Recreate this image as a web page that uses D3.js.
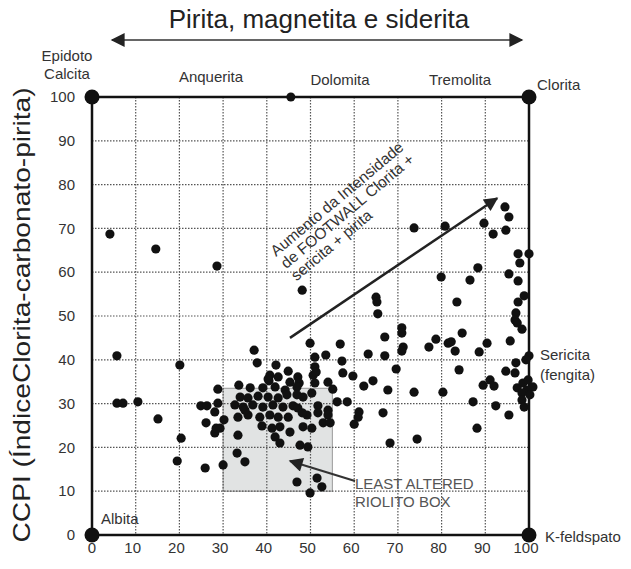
<!DOCTYPE html>
<html>
<head>
<meta charset="utf-8">
<script src="https://cdn.jsdelivr.net/npm/d3@7"></script>
<style>
body { margin: 0; background: #fff; }
svg text { font-family: "Liberation Sans", Arial, sans-serif; }
</style>
</head>
<body>
<svg id="chart" width="631" height="569"></svg>
<script>
// tick values
var xTicks = [0, 10, 20, 30, 40, 50, 60, 70, 80, 90, 100];
var yTicks = [0, 10, 20, 30, 40, 50, 60, 70, 80, 90, 100];

// end members (corners) + dolomite on top edge
var endMembers = [[0, 100], [100, 100], [0, 0], [100, 0]];
var dolomitePt = [[45.5, 100]];

// least altered riolito box (AI range x, CCPI range y)
var boxAI = [30, 55];
var boxCCPI = [10, 33.5];

// samples [AI, CCPI]
var leftPts = [
    [4.1, 68.7], [14.6, 65.3], [28.6, 61.4], [5.7, 40.9], [20.1, 38.8],
    [5.7, 30.1], [7.1, 30.1], [10.5, 30.4], [15.1, 26.5], [20.4, 22.1],
    [19.5, 16.9], [25.9, 15.3], [24.9, 29.5], [26.3, 29.5], [26.1, 25.6],
    [28.1, 28.1], [28.1, 23.3], [28.8, 33.3], [28.4, 24.4], [30.0, 16.0],
    [30.2, 26.3], [28.8, 30.1]
];
var clusterPts = [
    [37.1, 42.2], [37.8, 39.3], [33.6, 34.2], [36.2, 33.6], [42.1, 38.8],
    [44.9, 37.4], [40.7, 36.5], [42.6, 36.1], [40.5, 35.2], [47.1, 36.1],
    [45.3, 34.9], [47.4, 34.7], [50.6, 36.5], [51.0, 34.7], [51.0, 38.4],
    [51.3, 37.2], [51.0, 40.6], [53.5, 41.1], [49.9, 43.8], [56.8, 43.6],
    [57.2, 39.7], [57.4, 37.0], [59.7, 36.3], [54.0, 34.9], [55.1, 33.3],
    [39.1, 33.6], [41.9, 33.8], [44.2, 33.1], [46.9, 33.8], [33.9, 31.5],
    [35.7, 31.3], [38.0, 31.7], [40.3, 31.5], [42.6, 31.3], [44.6, 32.0],
    [46.9, 32.0], [48.3, 31.5], [50.3, 32.4], [56.1, 30.4], [58.4, 30.4],
    [32.7, 29.7], [34.6, 29.2], [36.8, 29.7], [39.1, 29.2], [41.4, 29.7],
    [43.7, 29.2], [46.0, 29.5], [47.1, 29.0], [51.7, 29.5], [54.0, 28.5],
    [33.4, 26.9], [35.7, 27.4], [38.4, 26.9], [40.7, 27.4], [42.6, 26.9],
    [44.9, 26.9], [49.2, 27.4], [51.7, 27.9], [54.0, 27.4], [38.9, 24.9],
    [41.2, 24.4], [43.0, 24.7], [48.3, 24.7], [50.3, 24.4], [52.9, 25.6],
    [54.5, 25.6], [29.3, 24.4], [33.4, 22.8], [41.9, 22.4], [43.0, 21.0],
    [45.3, 23.5], [47.6, 20.5], [49.4, 20.1], [33.2, 18.7], [35.0, 16.7],
    [46.9, 12.1], [51.5, 13.0], [52.6, 11.0], [49.9, 9.6], [40.3, 35.6],
    [35.0, 28.5], [48.1, 27.9]
];
var midPts = [
    [48.1, 55.9], [73.7, 70.1], [80.8, 70.5], [79.9, 58.9], [65.0, 54.3],
    [65.2, 53.2], [65.4, 50.5], [70.9, 47.3], [70.9, 46.1], [67.0, 45.2],
    [71.2, 42.9], [70.9, 42.0], [77.1, 42.9], [78.7, 44.7], [81.5, 43.8],
    [63.2, 41.3], [67.0, 40.9], [69.6, 37.9], [64.3, 35.2], [62.2, 34.0],
    [67.7, 33.1], [73.7, 32.6], [80.3, 32.6], [66.6, 27.9], [61.1, 28.1],
    [60.9, 26.9], [60.0, 25.3], [68.2, 21.0], [74.4, 21.9]
];
var rightPts = [
    [94.5, 74.9], [95.4, 72.6], [94.7, 69.6], [89.7, 71.2], [91.8, 68.7],
    [97.5, 64.2], [97.9, 62.1], [100.0, 64.2], [88.3, 61.0], [86.5, 58.2],
    [95.4, 59.6], [97.5, 58.0], [83.5, 53.2], [98.9, 54.6], [97.5, 53.2],
    [97.0, 50.7], [96.8, 49.1], [97.3, 48.4], [98.4, 47.0], [84.7, 46.1],
    [82.2, 44.1], [83.1, 42.0], [90.4, 43.8], [88.6, 41.8], [95.7, 44.3],
    [100.0, 40.9], [99.3, 40.0], [97.0, 39.3], [84.0, 37.7], [94.7, 37.4],
    [96.8, 37.0], [89.5, 34.2], [91.1, 35.4], [92.0, 34.0], [97.3, 33.6],
    [98.6, 34.7], [99.8, 35.4], [100.9, 33.8], [99.5, 33.1], [98.4, 32.4],
    [100.2, 32.0], [98.4, 30.8], [98.9, 29.2], [87.2, 30.4], [92.4, 29.5],
    [95.4, 27.4], [88.1, 24.4]
];

var samples = leftPts.concat(clusterPts, midPts, rightPts);

var svg = d3.select("#chart");

var x = d3.scaleLinear().domain([0, 100]).range([92, 529]);
var y = d3.scaleLinear().domain([0, 100]).range([535, 97]);

// shaded box
svg.append("rect")
    .attr("x", x(boxAI[0]))
    .attr("y", y(boxCCPI[1]))
    .attr("width", x(boxAI[1]) - x(boxAI[0]))
    .attr("height", y(boxCCPI[0]) - y(boxCCPI[1]))
    .attr("fill", "#e1e3e3")
    .attr("stroke", "#999")
    .attr("stroke-width", 1);

// dotted grid
svg.append("g").selectAll("line")
    .data(xTicks.slice(1, -1))
    .join("line")
    .attr("x1", d => x(d)).attr("x2", d => x(d))
    .attr("y1", y(100)).attr("y2", y(0))
    .attr("stroke", "#555").attr("stroke-width", 1.2)
    .attr("stroke-dasharray", "1.5,1.5");
svg.append("g").selectAll("line")
    .data(yTicks.slice(1, -1))
    .join("line")
    .attr("y1", d => y(d)).attr("y2", d => y(d))
    .attr("x1", x(0)).attr("x2", x(100))
    .attr("stroke", "#555").attr("stroke-width", 1.2)
    .attr("stroke-dasharray", "1.5,1.5");

// frame
svg.append("rect")
    .attr("x", x(0)).attr("y", y(100))
    .attr("width", x(100) - x(0)).attr("height", y(0) - y(100))
    .attr("fill", "none").attr("stroke", "#111").attr("stroke-width", 2.5);

// tick labels
svg.append("g").selectAll("text")
    .data(xTicks)
    .join("text")
    .attr("x", d => x(d) - (d == 0 ? 0 : 3))
    .attr("y", 553)
    .attr("text-anchor", "middle")
    .attr("font-size", 15)
    .attr("fill", "#333")
    .text(d => d);
svg.append("g").selectAll("text")
    .data(yTicks)
    .join("text")
    .attr("x", 75)
    .attr("y", d => y(d))
    .attr("dy", "0.35em")
    .attr("text-anchor", "end")
    .attr("font-size", 15)
    .attr("fill", "#333")
    .text(d => d);

// arrow marker
var defs = svg.append("defs");
defs.append("marker")
    .attr("id", "bighead")
    .attr("viewBox", "0 0 10 10")
    .attr("refX", 9).attr("refY", 5)
    .attr("markerWidth", 16).attr("markerHeight", 14)
    .attr("markerUnits", "userSpaceOnUse")
    .attr("orient", "auto-start-reverse")
    .append("path").attr("d", "M0,0 L10,5 L0,10 Z").attr("fill", "#222");

// top title + double arrow
svg.append("text")
    .attr("x", 319).attr("y", 28)
    .attr("text-anchor", "middle")
    .attr("font-size", 26)
    .attr("fill", "#222")
    .text("Pirita, magnetita e siderita");
svg.append("line")
    .attr("x1", 112).attr("y1", 40).attr("x2", 522).attr("y2", 40)
    .attr("stroke", "#333").attr("stroke-width", 1.5)
    .attr("marker-start", "url(#bighead)")
    .attr("marker-end", "url(#bighead)");

// y title
svg.append("text")
    .attr("transform", "translate(30,315) rotate(-90)")
    .attr("text-anchor", "middle")
    .attr("font-size", 24)
    .attr("textLength", 455)
    .attr("lengthAdjust", "spacingAndGlyphs")
    .attr("fill", "#222")
    .text("CCPI (ÍndiceClorita-carbonato-pirita)");

// trend arrow
svg.append("line")
    .attr("x1", x(45.3)).attr("y1", y(45))
    .attr("x2", x(92.7)).attr("y2", y(76.9))
    .attr("stroke", "#222").attr("stroke-width", 2.5)
    .attr("marker-end", "url(#bighead)");

var trend = svg.append("g")
    .attr("transform", "translate(276,257) rotate(-40)")
    .attr("font-size", 15.5)
    .attr("fill", "#333");
["Aumento da Intensidade", "de FOOTWALL Clorita +", "sericita + pirita"].forEach((t, i) => {
    trend.append("text").attr("x", 0).attr("y", i * 16).text(t);
});

// least altered arrow + label
svg.append("line")
    .attr("x1", 355).attr("y1", 481)
    .attr("x2", 290).attr("y2", 461)
    .attr("stroke", "#333").attr("stroke-width", 2)
    .attr("marker-end", "url(#bighead)");
svg.append("text").attr("x", 355).attr("y", 489)
    .attr("font-size", 15).attr("fill", "#555").text("LEAST ALTERED");
svg.append("text").attr("x", 355).attr("y", 507)
    .attr("font-size", 15).attr("fill", "#555").text("RIOLITO BOX");

// samples
svg.append("g").selectAll("circle")
    .data(samples)
    .join("circle")
    .attr("cx", d => x(d[0]))
    .attr("cy", d => y(d[1]))
    .attr("r", 4.6)
    .attr("fill", "#111");

// end member dots
svg.append("g").selectAll("circle")
    .data(endMembers)
    .join("circle")
    .attr("cx", d => x(d[0]))
    .attr("cy", d => y(d[1]))
    .attr("r", 7.5)
    .attr("fill", "#111");
svg.append("g").selectAll("circle")
    .data(dolomitePt)
    .join("circle")
    .attr("cx", d => x(d[0]))
    .attr("cy", d => y(d[1]))
    .attr("r", 4.5)
    .attr("fill", "#111");

// mineral labels
var lab = svg.append("g").attr("font-size", 15).attr("fill", "#333");
lab.append("text").attr("x", 67).attr("y", 61).attr("text-anchor", "middle").text("Epidoto");
lab.append("text").attr("x", 67).attr("y", 79).attr("text-anchor", "middle").text("Calcita");
lab.append("text").attr("x", 211).attr("y", 82).attr("text-anchor", "middle").text("Anquerita");
lab.append("text").attr("x", 340).attr("y", 85).attr("text-anchor", "middle").text("Dolomita");
lab.append("text").attr("x", 460).attr("y", 85).attr("text-anchor", "middle").text("Tremolita");
lab.append("text").attr("x", 537).attr("y", 90).text("Clorita");
lab.append("text").attr("x", 540).attr("y", 360).text("Sericita");
lab.append("text").attr("x", 540).attr("y", 380).text("(fengita)");
lab.append("text").attr("x", 545).attr("y", 542).text("K-feldspato");
lab.append("text").attr("x", 101).attr("y", 524).text("Albita");
</script>
</body>
</html>
